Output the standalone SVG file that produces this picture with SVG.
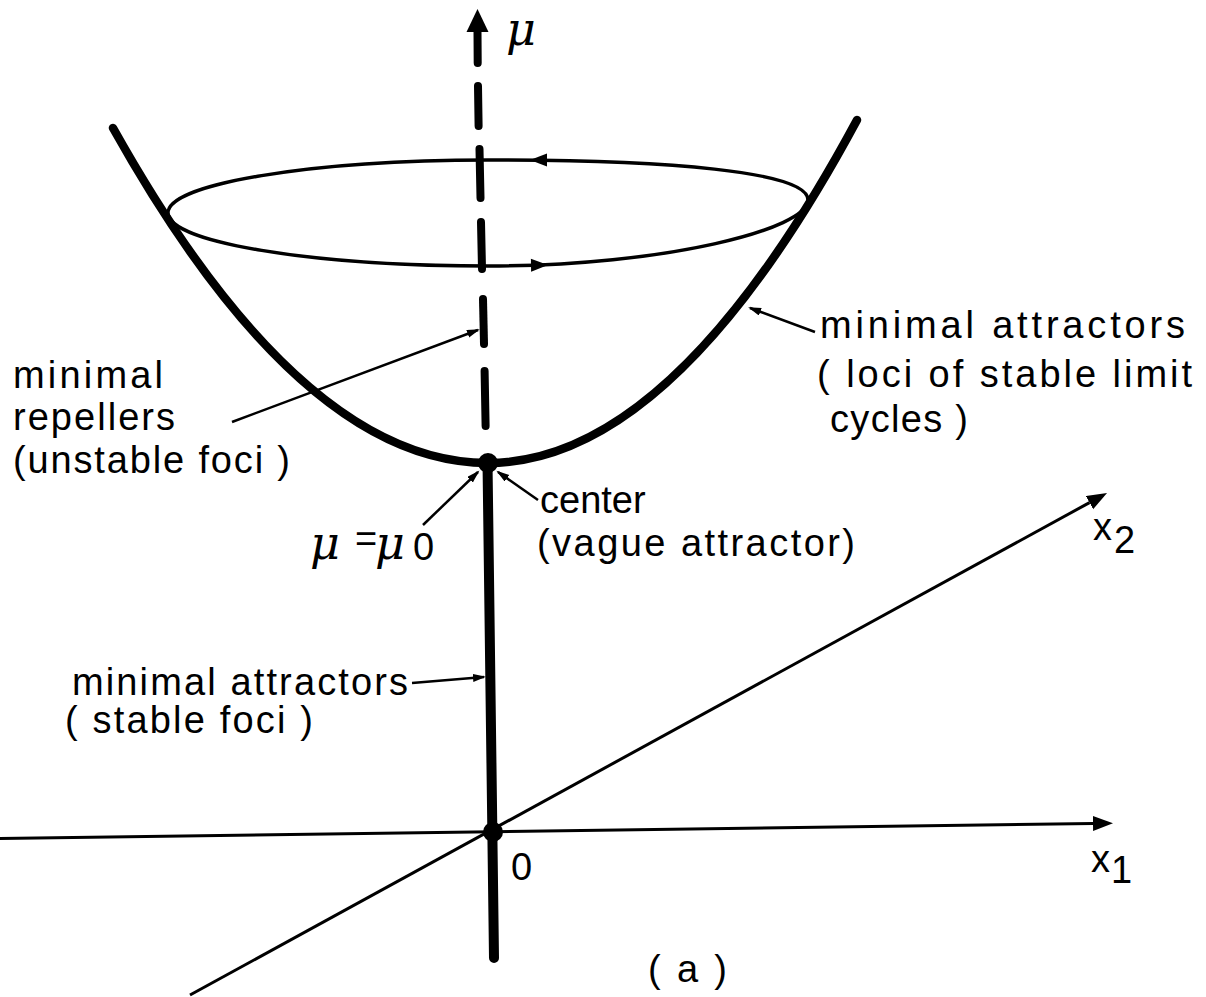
<svg xmlns="http://www.w3.org/2000/svg" width="1206" height="997" viewBox="0 0 1206 997">
<style>
.lbl{font-family:"Liberation Sans","DejaVu Sans",sans-serif;font-size:38px;fill:#000}
.mu{font-family:"DejaVu Serif","Liberation Serif",serif;font-style:italic;font-size:46px;fill:#000}
.axis{stroke:#000;stroke-width:3;fill:none}
.lead{stroke:#000;stroke-width:2.5;fill:none;marker-end:url(#sm)}
.dash{stroke:#000;stroke-width:8;stroke-linecap:round;fill:none}
</style>
<defs>
<marker id="big" markerUnits="userSpaceOnUse" markerWidth="22" markerHeight="16" refX="0" refY="7.5" orient="auto"><path d="M0,0 L20,7.5 L0,15 Z" fill="#000"/></marker>
<marker id="sm" markerUnits="userSpaceOnUse" markerWidth="14" markerHeight="10" refX="11" refY="4" orient="auto"><path d="M0,0 L13,4 L0,8 Z" fill="#000"/></marker>
<path id="tri" d="M0,0 L-17,-6.5 L-17,6.5 Z"/>
</defs>
<rect width="1206" height="997" fill="#fff"/>

<g id="axes">
<line class="axis" x1="0" y1="838.5" x2="1093" y2="823.5" marker-end="url(#big)"/>
<line class="axis" x1="190" y1="995" x2="1089.5" y2="502.6" marker-end="url(#big)"/>
</g>

<g id="mu-axis">
<polygon points="477.5,9 466.5,32 488.5,32" fill="#000"/>
<line class="dash" x1="477.5" y1="31" x2="477.7" y2="63" stroke-width="9"/>
<line class="dash" x1="478" y1="86" x2="478.6" y2="126"/>
<line class="dash" x1="479.5" y1="149" x2="480.5" y2="198"/>
<line class="dash" x1="481" y1="222" x2="482" y2="269"/>
<line class="dash" x1="483" y1="299" x2="484" y2="344"/>
<line class="dash" x1="484.6" y1="371" x2="485.6" y2="426"/>
<line x1="487.5" y1="462" x2="494" y2="958" stroke="#000" stroke-width="10" stroke-linecap="round"/>
</g>

<g id="parabola">
<path d="M488,463 Q300.5,463 113,128" stroke="#000" stroke-width="8.5" stroke-linecap="round" fill="none"/>
<path d="M488,463 Q672.5,463 857,120" stroke="#000" stroke-width="8.5" stroke-linecap="round" fill="none"/>
</g>

<g id="limit-cycle">
<path d="M168,213 C168,184 311,160 488,160 C665,160 808,171 808,200 C808,229 665,266 488,266 C311,266 168,242 168,213 Z" stroke="#000" stroke-width="3.5" fill="none"/>
<use href="#tri" transform="translate(530,160) rotate(180)"/>
<use href="#tri" transform="translate(548,265) rotate(-1)"/>
</g>

<g id="points">
<circle id="center-point" cx="488" cy="463" r="10" fill="#000"/>
<circle id="origin" cx="493" cy="832" r="10" fill="#000"/>
</g>

<g id="connectors">
<line class="lead" x1="232" y1="422" x2="478" y2="330"/>
<line class="lead" x1="815" y1="332" x2="750" y2="308"/>
<line class="lead" x1="423" y1="525" x2="478" y2="472"/>
<line class="lead" x1="538" y1="500" x2="498" y2="472"/>
<line class="lead" x1="412" y1="683" x2="484" y2="677"/>
</g>

<g id="label-mu"><text class="mu" x="506" y="45">μ</text></g>

<g id="label-repellers">
<text class="lbl" x="13" y="388" textLength="150" lengthAdjust="spacing">minimal</text>
<text class="lbl" x="13" y="430" textLength="162" lengthAdjust="spacing">repellers</text>
<text class="lbl" x="13" y="473" textLength="277" lengthAdjust="spacing">(unstable foci )</text>
</g>

<g id="label-attractors-cycles">
<text class="lbl" x="820" y="338" textLength="365" lengthAdjust="spacing">minimal attractors</text>
<text class="lbl" x="817" y="387" textLength="375" lengthAdjust="spacing">( loci of stable limit</text>
<text class="lbl" x="830" y="432" textLength="138" lengthAdjust="spacing">cycles )</text>
</g>

<g id="label-center">
<text class="lbl" x="540" y="513" font-size="32">center</text>
<text class="lbl" x="537" y="556" textLength="318" lengthAdjust="spacing">(vague attractor)</text>
</g>

<g id="label-mu0">
<text class="mu" x="310" y="559" font-size="50">μ</text>
<text class="lbl" x="355" y="552" font-size="24">=</text>
<text class="mu" x="375" y="559" font-size="50">μ</text>
<text class="lbl" x="413" y="560" font-size="34">0</text>
</g>

<g id="label-stable-foci">
<text class="lbl" x="72" y="695" font-size="33" textLength="336" lengthAdjust="spacing">minimal attractors</text>
<text class="lbl" x="65" y="733" font-size="35" textLength="248" lengthAdjust="spacing">( stable foci )</text>
</g>

<g id="label-axes">
<text class="lbl" x="511" y="880" font-size="42">0</text>
<text class="lbl" x="1093" y="540" font-size="36">x</text>
<text class="lbl" x="1114" y="553" font-size="36">2</text>
<text class="lbl" x="1091" y="872" font-size="36">x</text>
<text class="lbl" x="1111" y="883" font-size="34">1</text>
</g>

<g id="label-a">
<text class="lbl" x="648" y="982" font-size="44" textLength="79" lengthAdjust="spacing">( a )</text>
</g>
</svg>
